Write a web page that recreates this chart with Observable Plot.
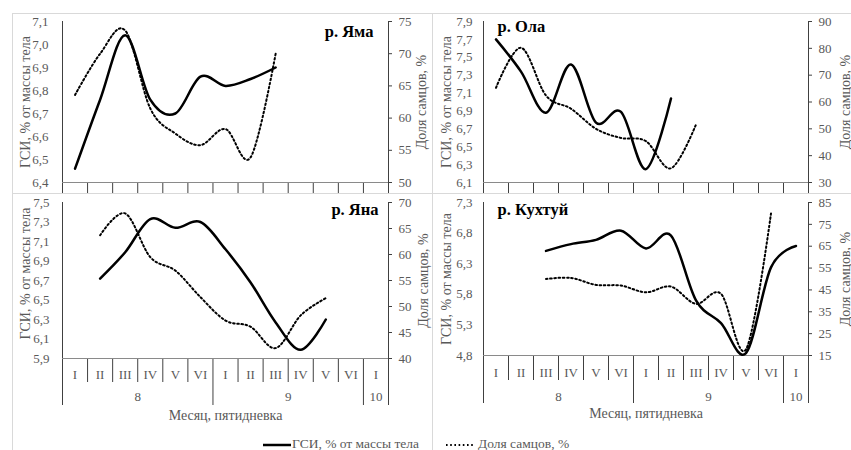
<!DOCTYPE html>
<html><head><meta charset="utf-8">
<script src="https://cdn.jsdelivr.net/npm/d3@7"></script>
<script src="https://cdn.jsdelivr.net/npm/@observablehq/plot@0.6"></script>
<style>
body{margin:0;background:#fff;}
#fig{position:relative;width:851px;height:450px;font-family:"Liberation Serif","Times New Roman",serif;overflow:hidden;background:#fff;}
.panel{position:absolute;}
.ln{position:absolute;background:#d9d9d9;}
.leg{position:absolute;font-size:13.5px;color:#595959;white-space:nowrap;line-height:16px;}
.leg svg{vertical-align:middle;}
</style></head><body>
<div id="fig"></div>
<script>
// categories
const pentads = ["I","II","III","IV","V","VI","I","II","III","IV","V","VI","I"];
const months = ["8","9","10"];
const monthSpans = [6, 6, 1];

// series: ГСИ (left axis) and Доля самцов (right axis), per pentad
const yamaGsi   = [6.46, 6.76, 7.04, 6.76, 6.70, 6.86, 6.82, 6.85, 6.90];
const yamaMales = [63.6, 70.0, 73.6, 61.5, 57.6, 55.8, 58.3, 53.9, 70.0];
const olaGsi    = [7.70, 7.34, 6.88, 7.42, 6.77, 6.89, 6.25, 7.04];
const olaMales  = [65.3, 80.2, 62.4, 57.5, 50.0, 46.6, 45.4, 35.3, 51.6];
const yanaGsi   = [null, 6.72, 6.99, 7.33, 7.24, 7.30, 7.02, 6.68, 6.27, 5.99, 6.30];
const yanaMales = [null, 63.7, 67.9, 59.5, 56.9, 51.8, 47.3, 46.1, 42.0, 48.3, 51.6];
const kuhGsi    = [null, null, 6.51, 6.62, 6.69, 6.84, 6.55, 6.76, 5.70, 5.33, 4.84, 6.24, 6.59];
const kuhMales  = [null, null, 50.0, 50.5, 47.3, 47.0, 43.9, 46.5, 38.6, 43.2, 17.8, 80.0];

const leftTitle = "ГСИ, % от массы тела";
const rightTitle = "Доля самцов, %";
const xTitle = "Месяц, пятидневка";

const fig = document.getElementById("fig");
function line(l, t, w, h){ const d=document.createElement("div"); d.className="ln"; Object.assign(d.style,{left:l+"px",top:t+"px",width:w+"px",height:h+"px"}); fig.appendChild(d); }

// month boundaries and centres from spans
const monthBounds = [0]; monthSpans.forEach(s => monthBounds.push(monthBounds[monthBounds.length-1]+s));
const monthCenters = monthSpans.map((s,i)=>monthBounds[i]+s/2);
const nCat = pentads.length;
const DOT = "1.6,2.6";

function panel(c){
  const toL = v => c.lmin + (v - c.rmin)/(c.rmax-c.rmin)*(c.lmax-c.lmin);
  const toR = y => c.rmin + (y - c.lmin)/(c.lmax-c.lmin)*(c.rmax-c.rmin);
  const lticks = d3.range(Math.round((c.lmax-c.lmin)/c.lstep)+1).map(k => c.lmin + k*c.lstep);
  const rticks = d3.range(Math.round((c.rmax-c.rmin)/c.rstep)+1).map(k => toL(c.rmin + k*c.rstep));
  const gsiData = c.gsi.map((v,i)=>({x:i+0.5, y:v})).filter(d=>d.y!=null);
  const maleData = c.males.map((v,i)=>({x:i+0.5, y:v==null?null:toL(v)})).filter(d=>d.y!=null);
  const marks = [];
  if (c.bottom) {
    const shortT = d3.range(1,nCat).filter(k=>!monthBounds.includes(k));
    marks.push(
      Plot.axisX({ticks: shortT, tickSize: c.shortT, tickFormat: ()=>"", stroke:"#404040", label:null}),
      Plot.axisX({ticks: monthBounds, tickSize: c.longT, tickFormat: ()=>"", stroke:"#404040", label:null}),
      Plot.axisX({ticks: d3.range(nCat).map(i=>i+0.5), tickSize:0, tickPadding:c.catPad, tickFormat: d=>pentads[Math.floor(d)], fill:"#595959", fontSize:13, label:null}),
      Plot.axisX({ticks: monthCenters, tickSize:0, tickPadding:c.monPad, tickFormat: d=>months[monthCenters.indexOf(d)], fill:"#595959", fontSize:13, label:null}),
      Plot.text([xTitle], {frameAnchor:"bottom", dy:c.xTitleDy, fill:"#595959", fontSize:14, lineAnchor:"middle", textAnchor:"middle"})
    );
  } else {
    marks.push(Plot.axisX({ticks: d3.range(nCat+1), tickSize: c.shortT, tickFormat: ()=>"", stroke:"#404040", label:null}));
  }
  marks.push(
    Plot.ruleY([c.lmin], {stroke:"#8a8a8a", strokeWidth:1.2}),
    Plot.ruleX([0, nCat], {stroke:"#404040"}),
    Plot.axisY({anchor:"left", ticks:lticks, tickSize:0, tickPadding:c.lPad, tickFormat:d=>d.toFixed(1).replace(".",","), fill:"#595959", fontSize:13, label:null}),
    Plot.axisY({anchor:"right", ticks:rticks, tickSize:3, tickPadding:7, tickFormat:d=>String(Math.round(toR(d))), stroke:"#404040", fill:"#595959", fontSize:13, label:null}),
    Plot.text([leftTitle], {frameAnchor:"left", rotate:-90, dx:-37, dy:c.ltDy||0, textAnchor:"middle", lineAnchor:"middle", fill:"#595959", fontSize:14}),
    Plot.text([rightTitle], {frameAnchor:"right", rotate:-90, dx:c.rtDx, textAnchor:"middle", lineAnchor:"middle", fill:"#595959", fontSize:14}),
    Plot.line(maleData, {x:"x", y:"y", curve:"cardinal", stroke:"black", strokeWidth:2, strokeDasharray:DOT}),
    Plot.line(gsiData, {x:"x", y:"y", curve:"cardinal", stroke:"black", strokeWidth:2.5}),
    Plot.text([c.title], {frameAnchor:c.titleAnchor, dx:c.tdx, dy:c.tdy, fontWeight:"bold", fontSize:16.5, fill:"black"})
  );
  const svg = Plot.plot({
    width:c.w, height:c.h,
    marginLeft:c.mL, marginRight:c.mR, marginTop:c.mT, marginBottom:c.mB,
    x:{domain:[0,nCat]}, y:{domain:[c.lmin,c.lmax]},
    style:{fontFamily:'"Liberation Serif","Times New Roman",serif', fontSize:"13px", background:"transparent", overflow:"visible"},
    marks
  });
  const d = document.createElement("div"); d.className="panel";
  d.style.left=c.left+"px"; d.style.top=c.top+"px";
  d.appendChild(svg); fig.appendChild(d);
}

panel({left:12, top:13, w:420, h:180, mL:50, mR:44, mT:8, mB:11, lmin:6.4, lmax:7.1, lstep:0.1, rmin:50, rmax:75, rstep:5,
  gsi:yamaGsi, males:yamaMales, title:"р. Яма", titleAnchor:"top-right", tdx:-15, tdy:4, lPad:14, rtDx:33, shortT:11, bottom:false});
panel({left:432, top:13, w:419, h:180, mL:51, mR:43, mT:8, mB:11, lmin:6.1, lmax:7.9, lstep:0.2, rmin:30, rmax:90, rstep:10,
  gsi:olaGsi, males:olaMales, title:"р. Ола", titleAnchor:"top-left", tdx:14, tdy:-1, lPad:11, rtDx:37, shortT:11, bottom:false});
panel({left:12, top:193, w:420, h:237, mL:50, mR:44, mT:9, mB:72, lmin:5.9, lmax:7.5, lstep:0.2, rmin:40, rmax:70, rstep:5,
  gsi:yanaGsi, males:yanaMales, title:"р. Яна", titleAnchor:"top-right", tdx:-10, tdy:1, lPad:13, rtDx:35, ltDy:-7,
  bottom:true, shortT:24, longT:47, catPad:11, monPad:33, xTitleDy:57});
panel({left:432, top:193, w:419, h:237, mL:51, mR:43, mT:9, mB:75, lmin:4.8, lmax:7.3, lstep:0.5, rmin:15, rmax:85, rstep:10,
  gsi:kuhGsi, males:kuhMales, title:"р. Кухтуй", titleAnchor:"top-left", tdx:14, tdy:1, lPad:11, rtDx:37,
  bottom:true, shortT:25, longT:48, catPad:12, monPad:36, xTitleDy:58});

// panel frames
line(12, 13, 839, 1); line(12, 193, 839, 1); line(12, 13, 1, 437); line(432, 13, 1, 437);

// legend
function legend(x, y, dash, label){
  const d = document.createElement("div"); d.className="leg"; d.style.left=x+"px"; d.style.top=y+"px";
  d.innerHTML = `<svg width="28" height="10"><line x1="0" x2="28" y1="5" y2="5" stroke="black" stroke-width="${dash?2:2.5}" ${dash?'stroke-dasharray="'+DOT+'"':''}/></svg><span style="margin-left:${dash?4:1}px">${label}</span>`;
  fig.appendChild(d);
}
legend(263, 436, false, leftTitle);
legend(446, 436, true, rightTitle);
</script>
</body></html>
